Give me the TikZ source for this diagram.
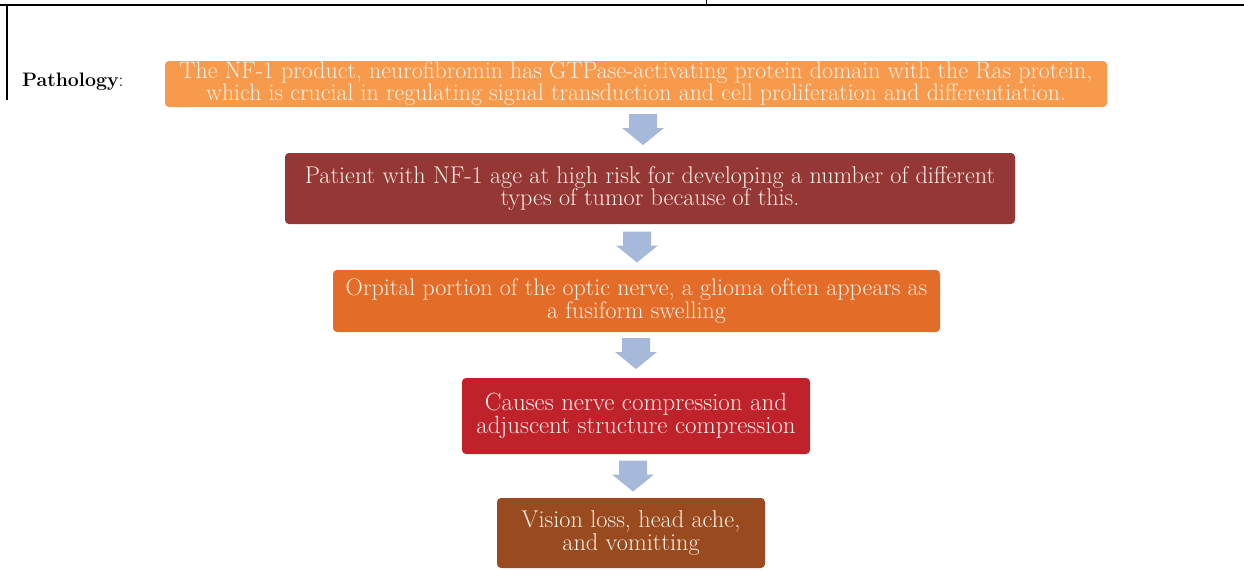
\documentclass[tikz,border=0pt]{standalone}
\usepackage{fontspec}
\usepackage{tikz}
\definecolor{boxA}{HTML}{F79A4C}
\definecolor{boxB}{HTML}{953735}
\definecolor{boxC}{HTML}{E36C28}
\definecolor{boxD}{HTML}{C0222B}
\definecolor{boxE}{HTML}{9A4A1F}
\definecolor{arrowblue}{HTML}{A7B9DA}
\definecolor{boxtext}{HTML}{F8F0E6}
\tikzset{pics/blockarrow/.style={code={
  \fill[arrowblue] (-14,15.5) -- (14,15.5) -- (14,1.5) -- (21,1.5) -- (0,-15.5)
    -- (-21,1.5) -- (-14,1.5) -- cycle;}}}
\begin{document}
\begin{tikzpicture}[x=1pt,y=1pt,yscale=-1,
  stepbox/.style={fill=#1, rounded corners=4pt, inner sep=0pt, align=center, text=boxtext}]
  \useasboundingbox (0,0) rectangle (1244,570);
  %Frame lines
  \draw [line width=2pt] (0,5) -- (1244,5);
  \draw [line width=1pt] (706,0) -- (706,5);
  \draw [line width=1.5pt] (7,5) -- (7,100);

  % Text Node
  \node (label) [anchor=base west, inner sep=0pt, font=\fontsize{19.5}{22}\selectfont] at (22,86) {\textbf{Pathology}:};

  % Boxes
  \node (gap) [stepbox=boxA, minimum width=942pt, minimum height=46pt, font=\fontsize{23.9}{22}\selectfont] at (636,84)
    {The NF-1 product, neurofibromin has GTPase-activating protein domain with the Ras protein,\\
     which is crucial in regulating signal transduction and cell proliferation and differentiation.};
  \node (risk) [stepbox=boxB, minimum width=730pt, minimum height=71pt, font=\fontsize{24.2}{22.5}\selectfont] at (650,188.5)
    {Patient with NF-1 age at high risk for developing a number of different\\
     types of tumor because of this.};
  \node (glioma) [stepbox=boxC, minimum width=607pt, minimum height=62pt, font=\fontsize{24}{23}\selectfont] at (636.5,301)
    {Orpital portion of the optic nerve, a glioma often appears as\\
     a fusiform swelling};
  \node (compress) [stepbox=boxD, minimum width=348pt, minimum height=76pt, font=\fontsize{24.9}{22.5}\selectfont] at (636,416)
    {Causes nerve compression and\\
     adjuscent structure compression};
  \node (symptoms) [stepbox=boxE, minimum width=268pt, minimum height=70pt, font=\fontsize{24.3}{23}\selectfont] at (631,533)
    {Vision loss, head ache,\\
     and vomitting};

  % Block arrows
  \pic (arrA) at (643,129.5) {blockarrow};
  \pic (arrB) at (637,247) {blockarrow};
  \pic (arrC) at (636,353.5) {blockarrow};
  \pic (arrD) at (633,476) {blockarrow};
\end{tikzpicture}
\end{document}
